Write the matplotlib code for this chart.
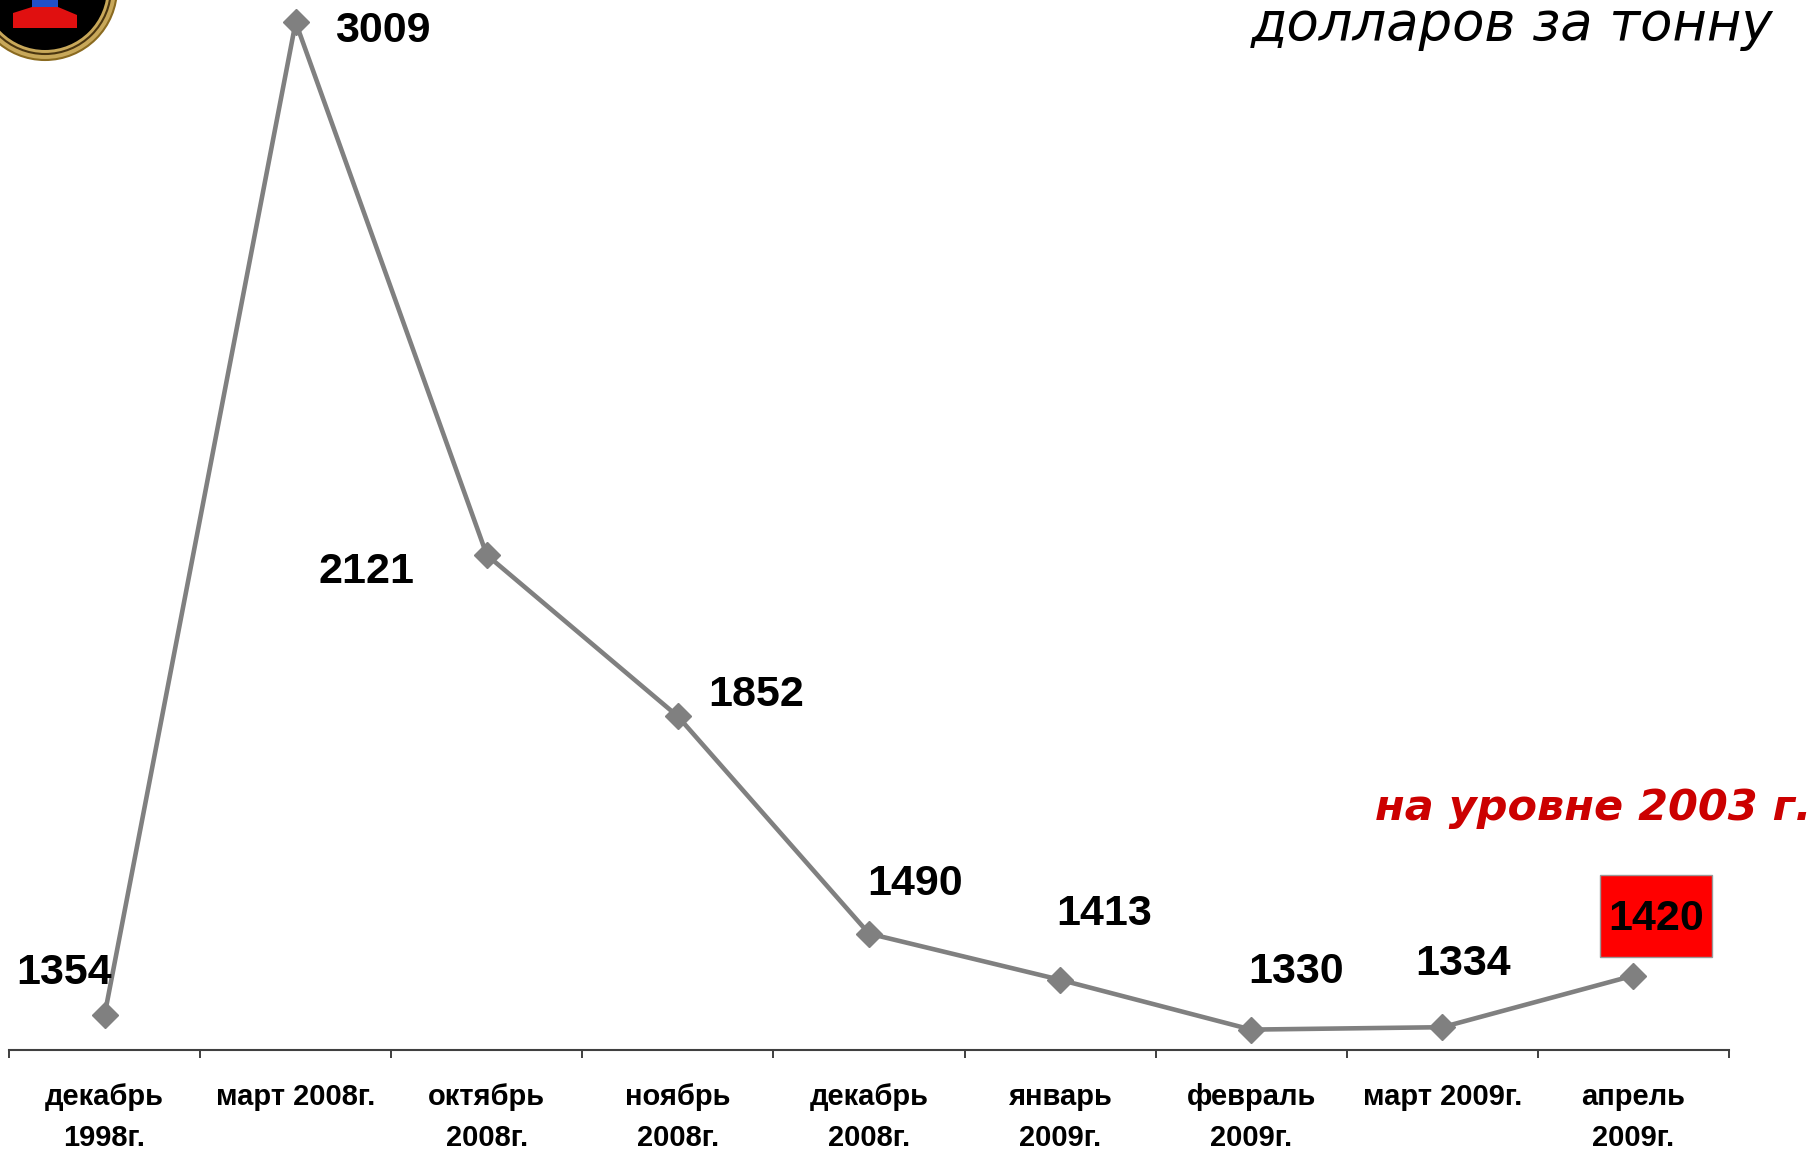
import matplotlib.pyplot as plt
from matplotlib.patches import Circle, Polygon, Rectangle

# price, dollars per tonne
categories = [
    "декабрь\n1998г.", "март 2008г.", "октябрь\n2008г.", "ноябрь\n2008г.",
    "декабрь\n2008г.", "январь\n2009г.", "февраль\n2009г.", "март 2009г.",
    "апрель\n2009г.",
]
prices = [1354, 3009, 2121, 1852, 1490, 1413, 1330, 1334, 1420]

# label offsets from each point (pixels), layout only
label_offsets = [(-40, 42), (87, -9), (-120, -17), (78, 21), (46, 50),
                 (44, 66), (45, 58), (21, 63), (23, 57)]

W, H = 1817, 1151
fig = plt.figure(figsize=(W / 100, H / 100), dpi=100)
ax = fig.add_axes([9 / W, (H - 1050) / H, 1720 / W, 1050 / H])

x = list(range(len(prices)))
ax.plot(x, prices, color="#808080", lw=3.3, marker="D", ms=13,
        markeredgecolor="#808080", zorder=3, clip_on=False)

ax.set_xlim(-0.5, len(prices) - 0.5)
ax.set_ylim(1296, 3046)

# red box behind the last value (pixel offsets from its point)
px, py = ax.transData.transform((x[-1], prices[-1]))
ax.add_patch(Rectangle((px - 33, py + 19), 112, 82, transform=None,
                       facecolor="#ff0000", edgecolor="#999999", lw=1,
                       zorder=2))

for i, (v, off) in enumerate(zip(prices, label_offsets)):
    ax.annotate(str(v), (i, v), xytext=off, textcoords="offset pixels",
                ha="center", va="center", fontsize=31, fontweight="bold",
                family="Liberation Sans", color="black", zorder=4)

for s in ["top", "left", "right"]:
    ax.spines[s].set_visible(False)
ax.spines["bottom"].set_color("#404040")
ax.spines["bottom"].set_linewidth(1.5)
ax.set_yticks([])
ax.set_xticks(x)
ax.set_xticklabels(categories, fontsize=21, fontweight="bold",
                   family="Liberation Sans", linespacing=1.58)
ax.set_xticks([i - 0.5 for i in range(len(prices) + 1)], minor=True)
ax.tick_params(axis="x", which="major", length=0, pad=24)
ax.tick_params(axis="x", which="minor", length=6, width=1.3, color="#303030")
ax.patch.set_visible(False)

fig.text(1773 / W, 1 - 25 / H, "долларов за тонну", ha="right", va="center",
         fontsize=38, style="italic", family="DejaVu Sans", color="black")
fig.text(1811 / W, 1 - 808 / H, "на уровне 2003 г.", ha="right", va="center",
         fontsize=31, style="italic", fontweight="bold",
         family="DejaVu Sans", color="#cc0000")

# emblem in the top-left corner
lg = fig.add_axes([0, 0, 1, 1])
lg.set_xlim(0, W)
lg.set_ylim(H, 0)
lg.axis("off")
lg.add_patch(Circle((45, -12), 72, facecolor="#c8a85a", edgecolor="#8a6a20", lw=1.5))
lg.add_patch(Circle((45, -12), 66, facecolor="none", edgecolor="#4a3510", lw=1.5))
lg.add_patch(Circle((45, -12), 62, facecolor="black", edgecolor="none"))
lg.add_patch(Polygon([(13, 28), (13, 13), (32, 7), (58, 7), (77, 15), (77, 28)],
                     facecolor="#e01010", edgecolor="none"))
lg.add_patch(Rectangle((32, 0), 26, 7, facecolor="#2050c8", edgecolor="none"))

fig.savefig("out.png", dpi=100)
